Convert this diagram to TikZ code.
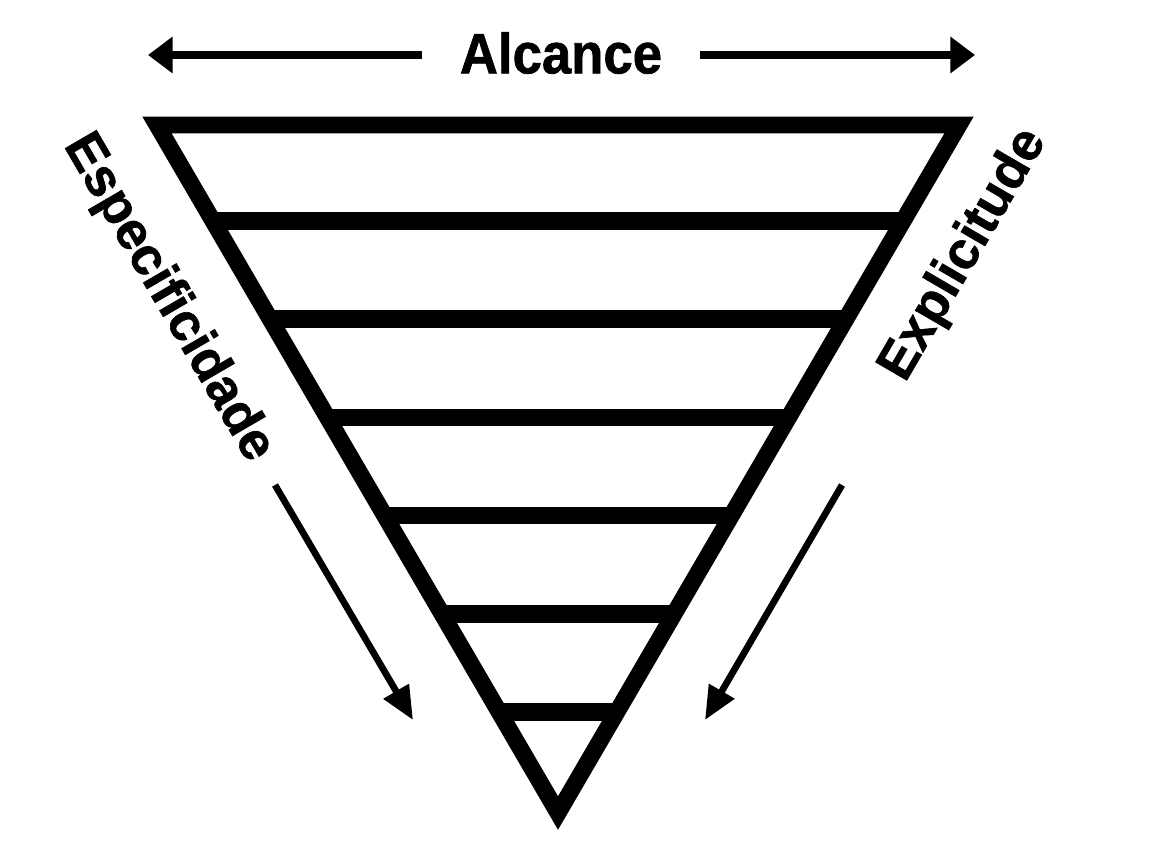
\documentclass[tikz,border=0pt]{standalone}
\usepackage{fontspec}
\setmainfont{Liberation Sans}[BoldFeatures={FakeBold=1.2}]
\usetikzlibrary{arrows.meta, positioning, calc}

\begin{document}
\begin{tikzpicture}[x=0.02cm, y=-0.02cm,
  frame/.style={line width=9.6pt, line join=miter},
  rung/.style={line width=10pt},
  bigarrow/.style={line width=5pt, -{Triangle[length=14pt, width=20pt]}},
  diagarrow/.style={line width=3.8pt, -{Triangle[length=19pt, width=16pt]}},
  bigtext/.style={font=\bfseries\fontsize{30}{36}\selectfont, inner sep=0pt}]
  \useasboundingbox (0,0) rectangle (1152,841);
  \coordinate (tl) at (157,125);
  \coordinate (tr) at (959,125);
  \coordinate (apex) at (558,813);
  \draw[frame] (tl) -- (tr) -- (apex) -- cycle;
  \foreach \i in {1,...,6} {
    \pgfmathsetmacro{\f}{(96+98.2*(\i-1))/688}
    \draw[rung] ($(tl)!\f!(apex)$) -- ($(tr)!\f!(apex)$);
  }

  \node[bigtext, yscale=1.08] (alcance) at (561,53) {Alcance};
  \coordinate (aL) at (148,55);
  \coordinate (aR) at (975,55);
  \draw[bigarrow] ($(alcance.west)+(-38,2)$) -- (aL);
  \draw[bigarrow] ($(alcance.east)+(38,2)$) -- (aR);

  \node[bigtext, rotate=-59.8] (spec) at (168,298) {Especificidade};
  \node[bigtext, rotate=59.8] (expl) at (964,255) {Explicitude};

  \coordinate (ls) at (275,485);
  \coordinate (le) at (413,720);
  \coordinate (rs) at (842,485);
  \coordinate (re) at (705,720);
  \draw[diagarrow] (ls) -- (le);
  \draw[diagarrow] (rs) -- (re);
\end{tikzpicture}
\end{document}
